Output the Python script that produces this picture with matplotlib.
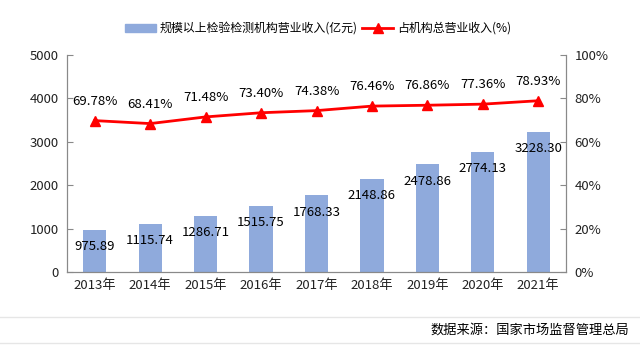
import matplotlib
matplotlib.use("Agg")
import matplotlib.pyplot as plt
from matplotlib.lines import Line2D

plt.rcParams['font.family'] = ['Noto Sans CJK SC', 'DejaVu Sans']

years = ["2013年", "2014年", "2015年", "2016年", "2017年", "2018年", "2019年", "2020年", "2021年"]
revenue = [975.89, 1115.74, 1286.71, 1515.75, 1768.33, 2148.86, 2478.86, 2774.13, 3228.30]
share = [69.78, 68.41, 71.48, 73.40, 74.38, 76.46, 76.86, 77.36, 78.93]
left_ticks = [0, 1000, 2000, 3000, 4000, 5000]
right_ticks = [0, 20, 40, 60, 80, 100]

fig = plt.figure(figsize=(6.4, 3.48), dpi=100)
ax = fig.add_axes([0.1047, 0.218, 0.7797, 0.624])
ax2 = ax.twinx()

x = list(range(len(years)))
bar_color = '#8FAADC'
ax.bar(x, revenue, width=0.42, color=bar_color, zorder=2)
ax.set_xlim(-0.5, len(years) - 0.5)
ax.set_ylim(0, 5000)
ax.set_yticks(left_ticks)
ax.set_xticks(x)
ax.set_xticklabels(years)

for xi, v in zip(x, revenue):
    ax.annotate(f"{v:.2f}", (xi, v), xytext=(0, -12), textcoords='offset points',
                ha='center', va='center', fontsize=9.5, color='#000000', zorder=5)

ax2.plot(x, share, color='#FF0000', lw=2, marker='^', markersize=7, zorder=4)
ax2.set_ylim(0, 100)
ax2.set_yticks(right_ticks)
ax2.set_yticklabels([f"{t}%" for t in right_ticks])
for xi, v in zip(x, share):
    ax2.annotate(f"{v:.2f}%", (xi, v), xytext=(0, 14), textcoords='offset points',
                 ha='center', va='center', fontsize=9.5, color='#000000')

spine_c = '#898989'
for a in (ax, ax2):
    a.spines['top'].set_visible(False)
    for s in ('left', 'right', 'bottom'):
        a.spines[s].set_color(spine_c)
    a.tick_params(colors=spine_c, labelcolor='#222222', labelsize=9.5)
ax.tick_params(axis='y', direction='in', length=4)
ax.tick_params(axis='x', length=0, pad=5)
ax2.tick_params(axis='y', direction='in', length=4, pad=6)
ax.tick_params(axis='y', pad=6)

handles = [plt.Rectangle((0, 0), 1, 1, color=bar_color),
           Line2D([0], [0], color='#FF0000', lw=2, marker='^', markersize=7)]
labels = ["规模以上检验检测机构营业收入(亿元)", "占机构总营业收入(%)"]
fig.legend(handles, labels, loc='center', bbox_to_anchor=(0.497, 0.918), ncol=2,
           frameon=False, fontsize=8.6, handlelength=2.6, handleheight=0.6,
           columnspacing=0.4, handletextpad=0.3)

fig.add_artist(Line2D([0, 1], [1 - 317/348, 1 - 317/348], color='#E6E6E6', lw=1))
fig.add_artist(Line2D([0, 1], [1 - 343/348, 1 - 343/348], color='#E6E6E6', lw=1))
fig.text(0.983, 1 - 330/348, "数据来源：国家市场监督管理总局", ha='right', va='center', fontsize=9.5, color='#000000')

fig.savefig("out.png", dpi=100, facecolor='white')
